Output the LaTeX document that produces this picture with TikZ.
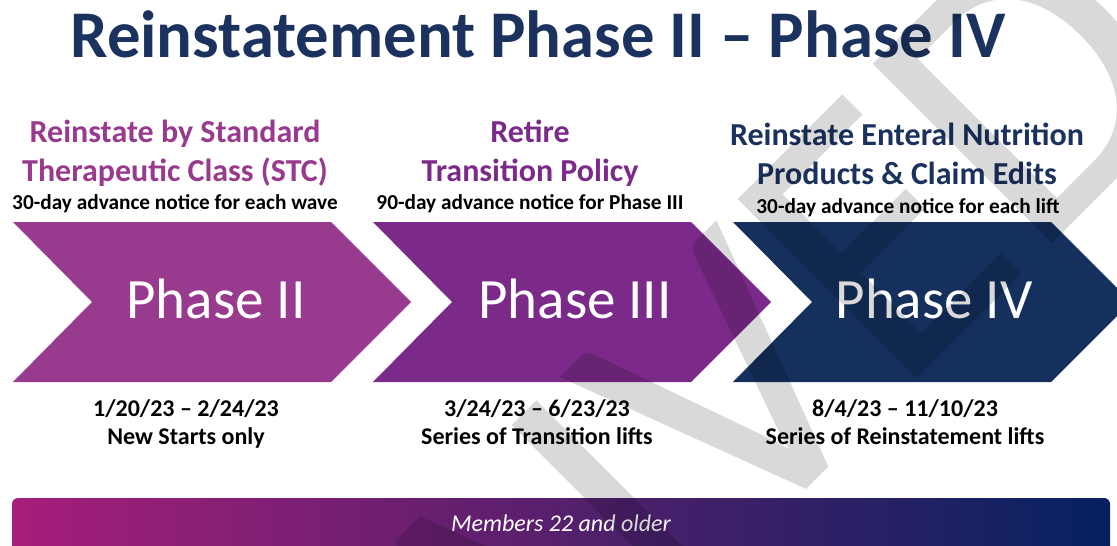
\documentclass[tikz,border=0pt]{standalone}
\usepackage{fontspec}
\setmainfont{Carlito}
\definecolor{titlenavy}{HTML}{1B325E}
\definecolor{plum}{HTML}{983A8E}
\definecolor{grape}{HTML}{7B2A8A}
\definecolor{deepnavy}{HTML}{15305C}
\definecolor{barleft}{HTML}{A61E7A}
\definecolor{barright}{HTML}{05215F}

\begin{document}
\begin{tikzpicture}[x=1pt,y=-1pt,
    head/.style={font=\fontsize{32}{38}\selectfont\bfseries,anchor=base},
    notice/.style={font=\fontsize{21.3}{26}\selectfont\bfseries,anchor=base},
    dates/.style={font=\fontsize{24}{29}\selectfont\bfseries,anchor=base},
    phase/.style={font=\fontsize{57}{68}\selectfont,text=white,anchor=base}]
  \useasboundingbox (0,0) rectangle (1117,546);
  \clip (0,0) rectangle (1117,546);
  \node[font=\fontsize{66.7}{80}\selectfont\bfseries,text=titlenavy,anchor=base] (title) at (538,57) {Reinstatement Phase II – Phase IV};

  \foreach \x/\c in {13/plum,373/grape,733/deepnavy}
    \fill[\c] (\x,222) -- ++(318,0) -- ++(80,80) -- ++(-80,80) -- ++(-318,0) -- ++(79,-80) -- cycle;
  \node[phase] (p2) at (216,318) {Phase II};
  \node[phase] (p3) at (575,318) {Phase III};
  \node[phase] (p4) at (934,318) {Phase IV};

  \node[head,text=plum] (h2a) at (175,142) {Reinstate by Standard};
  \node[head,text=plum] (h2b) at (175,181) {Therapeutic Class (STC)};
  \node[notice] (n2) at (175,209) {30-day advance notice for each wave};
  \node[head,text=grape] (h3a) at (530,142) {Retire};
  \node[head,text=grape] (h3b) at (530,181) {Transition Policy};
  \node[notice] (n3) at (530,209) {90-day advance notice for Phase III};
  \node[head,text=titlenavy] (h4a) at (907,145) {Reinstate Enteral Nutrition};
  \node[head,text=titlenavy] (h4b) at (907,184) {Products \& Claim Edits};
  \node[notice] (n4) at (908,213) {30-day advance notice for each lift};

  \node[dates] (d2) at (186,416) {1/20/23 – 2/24/23};
  \node[dates] (s2) at (186,444) {New Starts only};
  \node[dates] (d3) at (537,416) {3/24/23 – 6/23/23};
  \node[dates] (s3) at (537,444) {Series of Transition lifts};
  \node[dates] (d4) at (905,416) {8/4/23 – 11/10/23};
  \node[dates] (s4) at (905,444) {Series of Reinstatement lifts};

  \shade[left color=barleft,middle color=grape,right color=barright,rounded corners=6] (12,498) rectangle (1110,566);
  \node[font=\fontsize{24}{29}\selectfont\itshape,text=white,anchor=base] (members) at (561,531) {Members 22 and older};

  \node[font=\fontsize{395}{400}\selectfont,text=black,text opacity=0.15,rotate=45,anchor=base] (waived) at (738,558) {WAIVED};
\end{tikzpicture}
\end{document}
